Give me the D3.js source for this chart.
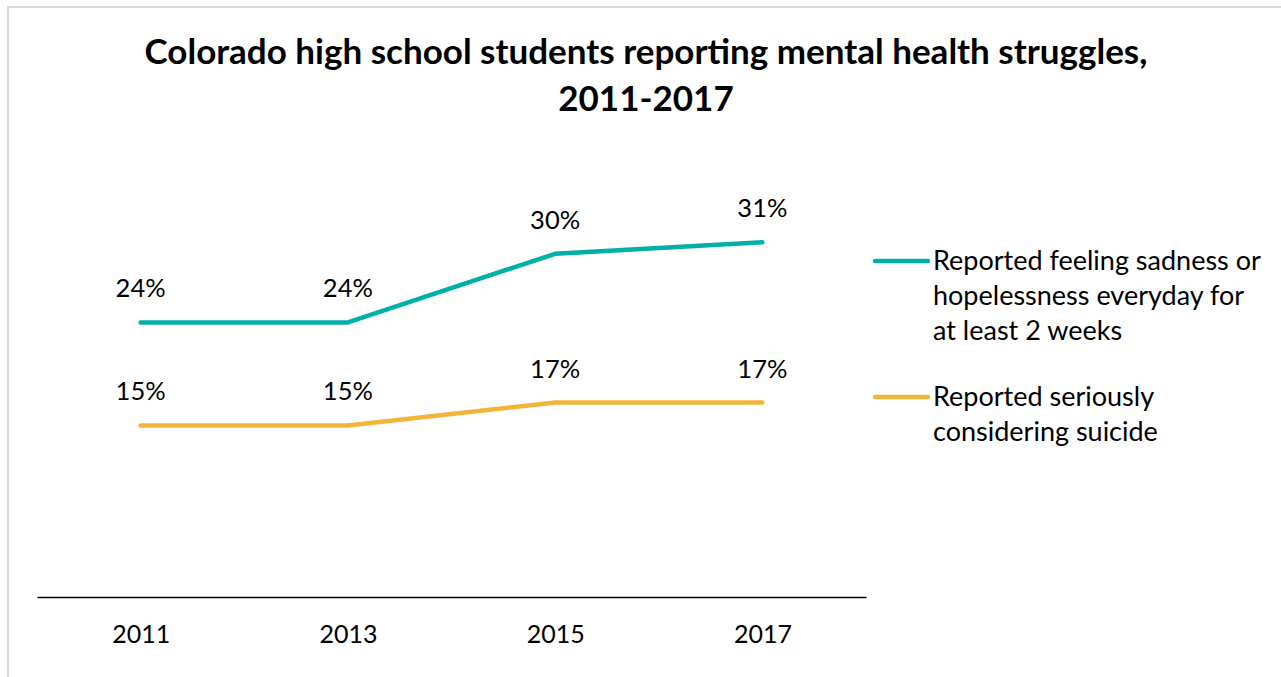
<!DOCTYPE html>
<html>
<head>
<meta charset="utf-8">
<script src="https://cdn.jsdelivr.net/npm/d3@7"></script>
<style>
  body { margin: 0; background: #fff; }
  text { font-family: Lato, "Open Sans", sans-serif; fill: #000; }
</style>
</head>
<body>
<script>
// Data
const years = ["2011", "2013", "2015", "2017"];
const sadness = [24, 24, 30, 31];
const suicide = [15, 15, 17, 17];
const seriesNames = [
  ["Reported feeling sadness or", "hopelessness everyday for", "at least 2 weeks"],
  ["Reported seriously", "considering suicide"],
];
const seriesColors = ["#00AFA8", "#F2B53A"];
const titleLines = [
  "Colorado high school students reporting mental health struggles,",
  "2011-2017",
];

const W = 1281, H = 677;

const svg = d3.select("body").append("svg")
  .attr("width", W)
  .attr("height", H);

// Chart border
svg.append("rect")
  .attr("x", 8).attr("y", 7)
  .attr("width", W).attr("height", H)
  .attr("fill", "none")
  .attr("stroke", "#D9D9D9")
  .attr("stroke-width", 2);

// Title
svg.append("text")
  .attr("text-anchor", "middle")
  .style("font-size", "35px")
  .style("font-weight", "bold")
  .selectAll("tspan")
  .data(titleLines)
  .enter()
  .append("tspan")
  .attr("x", 646)
  .attr("y", (d, i) => 64 + i * 47)
  .text(d => d);

// Scales
const x = d3.scalePoint().domain(years).range([37, 866]).padding(0.5);
const y = d3.scaleLinear().domain([0, 35]).range([597, 196.6]);

// X axis
const xAxis = d3.axisBottom(x).tickSize(0).tickPadding(28);
const gx = svg.append("g")
  .attr("transform", "translate(0,597)")
  .call(xAxis);
gx.select(".domain").attr("stroke", "#000").attr("stroke-width", 1.5);
gx.selectAll(".tick text")
  .style("font-size", "25px")
  .style("font-family", "Lato, sans-serif")
  .attr("fill", "#000");

// Lines
const line = d3.line().x((d, i) => x(years[i])).y(d => y(d));
const allSeries = [sadness, suicide];

allSeries.forEach((vals, s) => {
  svg.append("path")
    .datum(vals)
    .attr("d", line)
    .attr("fill", "none")
    .attr("stroke", seriesColors[s])
    .attr("stroke-width", 4.5)
    .attr("stroke-linecap", "round")
    .attr("stroke-linejoin", "round");

  // Data labels
  svg.selectAll(null)
    .data(vals)
    .enter()
    .append("text")
    .attr("x", (d, i) => x(years[i]))
    .attr("y", d => y(d) - 25)
    .attr("text-anchor", "middle")
    .style("font-size", "25.5px")
    .text(d => d + "%");
});

// Legend
const legendY = [261, 397];
seriesNames.forEach((lines, s) => {
  const g = svg.append("g");
  g.append("line")
    .attr("x1", 875).attr("x2", 928)
    .attr("y1", legendY[s]).attr("y2", legendY[s])
    .attr("stroke", seriesColors[s])
    .attr("stroke-width", 4.5)
    .attr("stroke-linecap", "round");
  g.append("text")
    .style("font-size", "27px")
    .selectAll("tspan")
    .data(lines)
    .enter()
    .append("tspan")
    .attr("x", 933)
    .attr("y", (d, i) => legendY[s] + 9 + i * 35)
    .text(d => d);
});
</script>
</body>
</html>
